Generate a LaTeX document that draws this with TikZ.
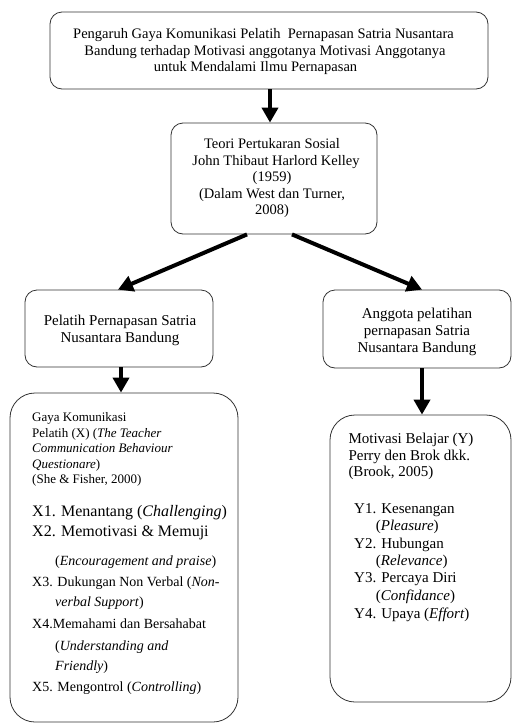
\documentclass[tikz,border=0pt]{standalone}
\usepackage{fontspec}
\setmainfont{Liberation Serif}
\usetikzlibrary{arrows.meta,calc}
\newcommand{\fs}[1]{\fontsize{#1}{#1}\selectfont}
\begin{document}
\begin{tikzpicture}[x=1pt,y=-1pt,
  box/.style={draw=black!80, line width=0.8pt, rounded corners=12pt, inner sep=0pt},
  bigbox/.style={box, rounded corners=25pt},
  arr/.style={line width=4pt, -{Triangle[length=15pt,width=16pt]}},
  ln/.style={anchor=base, inner sep=0pt},
  lnl/.style={anchor=base west, inner sep=0pt}]
\useasboundingbox[fill=white] (0,0) rectangle (513,726);

% boxes
\node[box, minimum width=438pt, minimum height=77pt] (top) at (269,50.5) {};
\node[box, minimum width=206pt, minimum height=111pt] (teori) at (274,178.5) {};
\node[box, minimum width=188pt, minimum height=77pt] (pelatih) at (119,328.5) {};
\node[box, minimum width=188pt, minimum height=78pt] (anggota) at (417,329) {};
\node[bigbox, minimum width=228pt, minimum height=329pt] (gaya) at (124,557.5) {};
\node[bigbox, minimum width=181pt, minimum height=287pt] (motiv) at (420.5,558.5) {};

% arrows
\draw[arr] (top.south -| 270,0) -- (teori.north -| 270,0);
\draw[arr] ([xshift=-27pt]teori.south) -- (pelatih.north -| 118,0);
\draw[arr] ([xshift=18pt]teori.south) -- (anggota.north -| 422,0);
\draw[arr] (pelatih.south -| 121,0) -- (gaya.north -| 121,0);
\draw[arr] (anggota.south -| 422,0) -- (motiv.north -| 422,0);

% top text
\begin{scope}[every node/.append style={font=\fs{14.5}}]
\node[ln] (t1) at (263.5,38.3) {Pengaruh Gaya Komunikasi Pelatih\ \ Pernapasan Satria Nusantara};
\node[ln] (t2) at (265,55) {Bandung terhadap Motivasi anggotanya Motivasi Anggotanya};
\node[ln] (t3) at (255.5,71.7) {untuk Mendalami Ilmu Pernapasan};
\end{scope}

% teori text
\begin{scope}[every node/.append style={font=\fs{14.5}}]
\node[ln] (s1) at (272,148.5) {Teori Pertukaran Sosial};
\node[ln] (s2) at (276,165) {John Thibaut Harlord Kelley};
\node[ln] (s3) at (272,181.5) {(1959)};
\node[ln] (s4) at (272,198) {(Dalam West dan Turner,};
\node[ln] (s5) at (272,214) {2008)};
\end{scope}

% middle boxes text
\begin{scope}[every node/.append style={font=\fs{15}}]
\node[ln] (p1) at (120,325) {Pelatih Pernapasan Satria};
\node[ln] (p2) at (120,342) {Nusantara Bandung};
\node[ln] (a1) at (417,318) {Anggota pelatihan};
\node[ln] (a2) at (417,335) {pernapasan Satria};
\node[ln] (a3) at (417,352) {Nusantara Bandung};
\end{scope}

% left bottom box text
\begin{scope}[every node/.append style={font=\fs{13}}]
\node[lnl] (g1) at (32,421.7) {Gaya Komunikasi};
\node[lnl] (g2) at (32,437.3) {Pelatih (X) (\textit{The Teacher}};
\node[lnl] (g3) at (32,452.7) {\textit{Communication Behaviour}};
\node[lnl] (g4) at (32,468.3) {\textit{Questionare})};
\node[lnl] (g5) at (32,483.3) {(She \& Fisher, 2000)};
\end{scope}
\begin{scope}[every node/.append style={font=\fs{16}}]
\node[lnl] (x1) at (32,516.7) {X1. Menantang (\textit{Challenging})};
\node[lnl] (x2) at (32,536.7) {X2. Memotivasi \& Memuji};
\end{scope}
\begin{scope}[every node/.append style={font=\fs{14}}]
\node[lnl] (x2b) at (55,565) {(\textit{Encouragement and praise})};
\node[lnl] (x3) at (32,586.7) {X3. Dukungan Non Verbal (\textit{Non-}};
\node[lnl] (x3b) at (55,606.7) {\textit{verbal Support})};
\node[lnl] (x4) at (32,628.3) {X4.Memahami dan Bersahabat};
\node[lnl] (x4b) at (55,650) {(\textit{Understanding and}};
\node[lnl] (x4c) at (55,670) {\textit{Friendly})};
\node[lnl] (x5) at (32,691.7) {X5. Mengontrol (\textit{Controlling})};
\end{scope}

% right bottom box text
\begin{scope}[every node/.append style={font=\fs{15}}]
\node[lnl] (m1) at (348.3,443.3) {Motivasi Belajar (Y)};
\node[lnl] (m2) at (348.3,460) {Perry den Brok dkk.};
\node[lnl] (m3) at (348.3,476.7) {(Brook, 2005)};
\node[lnl] (y1) at (354,513.3) {Y1. Kesenangan};
\node[lnl] (y1b) at (375.7,530) {(\textit{Pleasure})};
\node[lnl] (y2) at (354,548.3) {Y2. Hubungan};
\node[lnl] (y2b) at (375.7,565) {(\textit{Relevance})};
\node[lnl] (y3) at (354,582.7) {Y3. Percaya Diri};
\node[lnl] (y3b) at (375.7,600) {(\textit{Confidance})};
\node[lnl] (y4) at (354,618.3) {Y4. Upaya (\textit{Effort})};
\end{scope}
\end{tikzpicture}
\end{document}
